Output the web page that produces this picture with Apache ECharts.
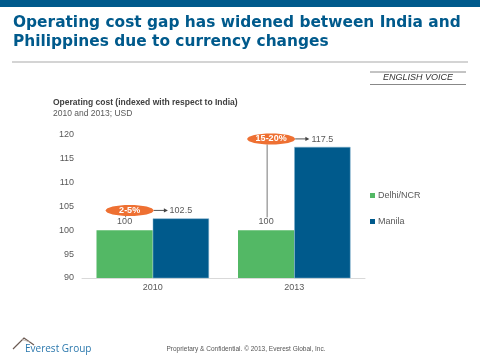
<!DOCTYPE html>
<html><head><meta charset="utf-8">
<script src="https://cdn.jsdelivr.net/npm/echarts@6/dist/echarts.min.js"></script>
<style>html,body{margin:0;padding:0;background:#fff}#c{width:480px;height:360px}</style>
</head><body><div id="c"></div>
<script>
const categories = ['2010', '2013'];
const delhiValues = [100, 100];
const manilaValues = [102.5, 117.5];
const gapLabels = ['2-5%', '15-20%'];
const seriesNames = ['Delhi/NCR', 'Manila'];
const yMin = 90, yMax = 120, yStep = 5;

const GREEN = '#53b865', BLUE = '#005a8c', ORANGE = '#ee7032', GREY = '#595959';
const chart = echarts.init(document.getElementById('c'), null, {renderer: 'canvas'});
const ff = 'Liberation Sans, Arial, sans-serif';

chart.setOption({
  animation: false,
  textStyle: {fontFamily: ff},
  title: [
    {text: 'Operating cost gap has widened between India and\nPhilippines due to currency changes', left: 13, top: 13, padding: 0,
     textStyle: {fontSize: 15.4, fontWeight: 'bold', color: BLUE, lineHeight: 19, fontFamily: 'DejaVu Sans, sans-serif'}},
    {text: 'Operating cost (indexed with respect to India)', left: 53, top: 98, padding: 0,
     textStyle: {fontSize: 8.5, fontWeight: 'bold', color: '#404040', fontFamily: ff}},
    {text: '2010 and 2013; USD', left: 53, top: 109, padding: 0,
     textStyle: {fontSize: 8.5, fontWeight: 'normal', color: GREY, fontFamily: ff}},
    {text: 'ENGLISH VOICE', left: 418, top: 73, textAlign: 'center', padding: 0,
     textStyle: {fontSize: 9, fontWeight: 'normal', fontStyle: 'italic', color: '#333', fontFamily: ff}},
    {text: 'Proprietary & Confidential. © 2013, Everest Global, Inc.', left: 246, top: 346, textAlign: 'center', padding: 0,
     textStyle: {fontSize: 6.5, fontWeight: 'normal', color: '#555', fontFamily: ff}},
    {text: 'Everest Group', left: 25, top: 344, padding: 0,
     textStyle: {fontSize: 10, fontWeight: 'normal', color: '#2b78ad', fontFamily: 'Open Sans, sans-serif'}}
  ],
  legend: {
    orient: 'vertical', left: 370, top: 191, padding: 0, itemWidth: 5, itemHeight: 5, itemGap: 17,
    icon: 'rect', data: seriesNames, itemStyle: {borderWidth: 0},
    textStyle: {fontSize: 9, color: GREY, fontFamily: ff, padding: [0, 0, 0, -2]}
  },
  grid: {left: 82, right: 115, top: 135, bottom: 82, containLabel: false},
  xAxis: {
    type: 'category', data: categories,
    axisLine: {lineStyle: {color: '#d9d9d9'}}, axisTick: {show: false},
    axisLabel: {fontSize: 9, color: GREY, margin: 5}
  },
  yAxis: {
    type: 'value', min: yMin, max: yMax, interval: yStep,
    axisLine: {show: false}, axisTick: {show: false}, splitLine: {show: false},
    axisLabel: {fontSize: 9, color: GREY, margin: 8}
  },
  series: [
    {name: seriesNames[0], type: 'bar', data: delhiValues, barGap: '0%', barCategoryGap: '20.5%',
     itemStyle: {color: GREEN},
     label: {show: true, position: 'top', distance: 4, fontSize: 9, color: GREY}},
    {name: seriesNames[1], type: 'bar', data: manilaValues,
     itemStyle: {color: BLUE, borderColor: '#7fb0cc', borderWidth: 0.5},
     label: {show: true, position: 'top', distance: 3, fontSize: 9, color: GREY}}
  ]
});

function buildGraphics() {
  const els = [
    {type: 'rect', shape: {x: 0, y: 0, width: 480, height: 7}, style: {fill: BLUE}},
    {type: 'rect', shape: {x: 12, y: 61, width: 456, height: 2}, style: {fill: '#d4d4d4'}},
    {type: 'line', shape: {x1: 370, y1: 72, x2: 466, y2: 72}, style: {stroke: '#888', lineWidth: 1}},
    {type: 'line', shape: {x1: 370, y1: 84.5, x2: 466, y2: 84.5}, style: {stroke: '#888', lineWidth: 1}},
    {type: 'polyline', shape: {points: [[13, 349], [24, 338], [34, 345]]}, style: {stroke: '#6b5a52', lineWidth: 1.2, fill: null}},
    {type: 'line', shape: {x1: 22, y1: 339.5, x2: 30, y2: 342}, style: {stroke: '#b8aaa2', lineWidth: 0.8}}
  ];
  const c0 = chart.convertToPixel({xAxisIndex: 0, yAxisIndex: 0}, [0, yMin]);
  const c1 = chart.convertToPixel({xAxisIndex: 0, yAxisIndex: 0}, [1, yMin]);
  const band = c1[0] - c0[0];
  const barW = band * (1 - 0.205) / 2;
  categories.forEach((cat, i) => {
    const pD = chart.convertToPixel({xAxisIndex: 0, yAxisIndex: 0}, [i, delhiValues[i]]);
    const pM = chart.convertToPixel({xAxisIndex: 0, yAxisIndex: 0}, [i, manilaValues[i]]);
    const gx = pD[0] - barW / 2;
    const bx = pM[0] + barW / 2;
    const ey = pM[1] - 8;
    const ex = gx + 5;
    const rx = 24, ry = 5.5;
    els.push({type: 'line', z: 5, shape: {x1: gx + 1, y1: ey + ry, x2: gx + 1, y2: pD[1] - 13}, style: {stroke: '#777', lineWidth: 1}});
    const ax = bx - 13;
    els.push({type: 'line', z: 5, shape: {x1: ex + rx, y1: ey, x2: ax - 3, y2: ey}, style: {stroke: '#555', lineWidth: 1}});
    els.push({type: 'polygon', z: 5, shape: {points: [[ax, ey], [ax - 4, ey - 2.2], [ax - 4, ey + 2.2]]}, style: {fill: '#444'}});
    els.push({type: 'ellipse', z: 6, shape: {cx: ex, cy: ey, rx: rx, ry: ry}, style: {fill: ORANGE}});
    els.push({type: 'text', z: 7, x: ex, y: ey, style: {text: gapLabels[i], fill: '#fff', font: 'bold 9px ' + ff, align: 'center', verticalAlign: 'middle'}});
  });
  chart.setOption({graphic: els});
}
buildGraphics();
</script>
</body></html>
